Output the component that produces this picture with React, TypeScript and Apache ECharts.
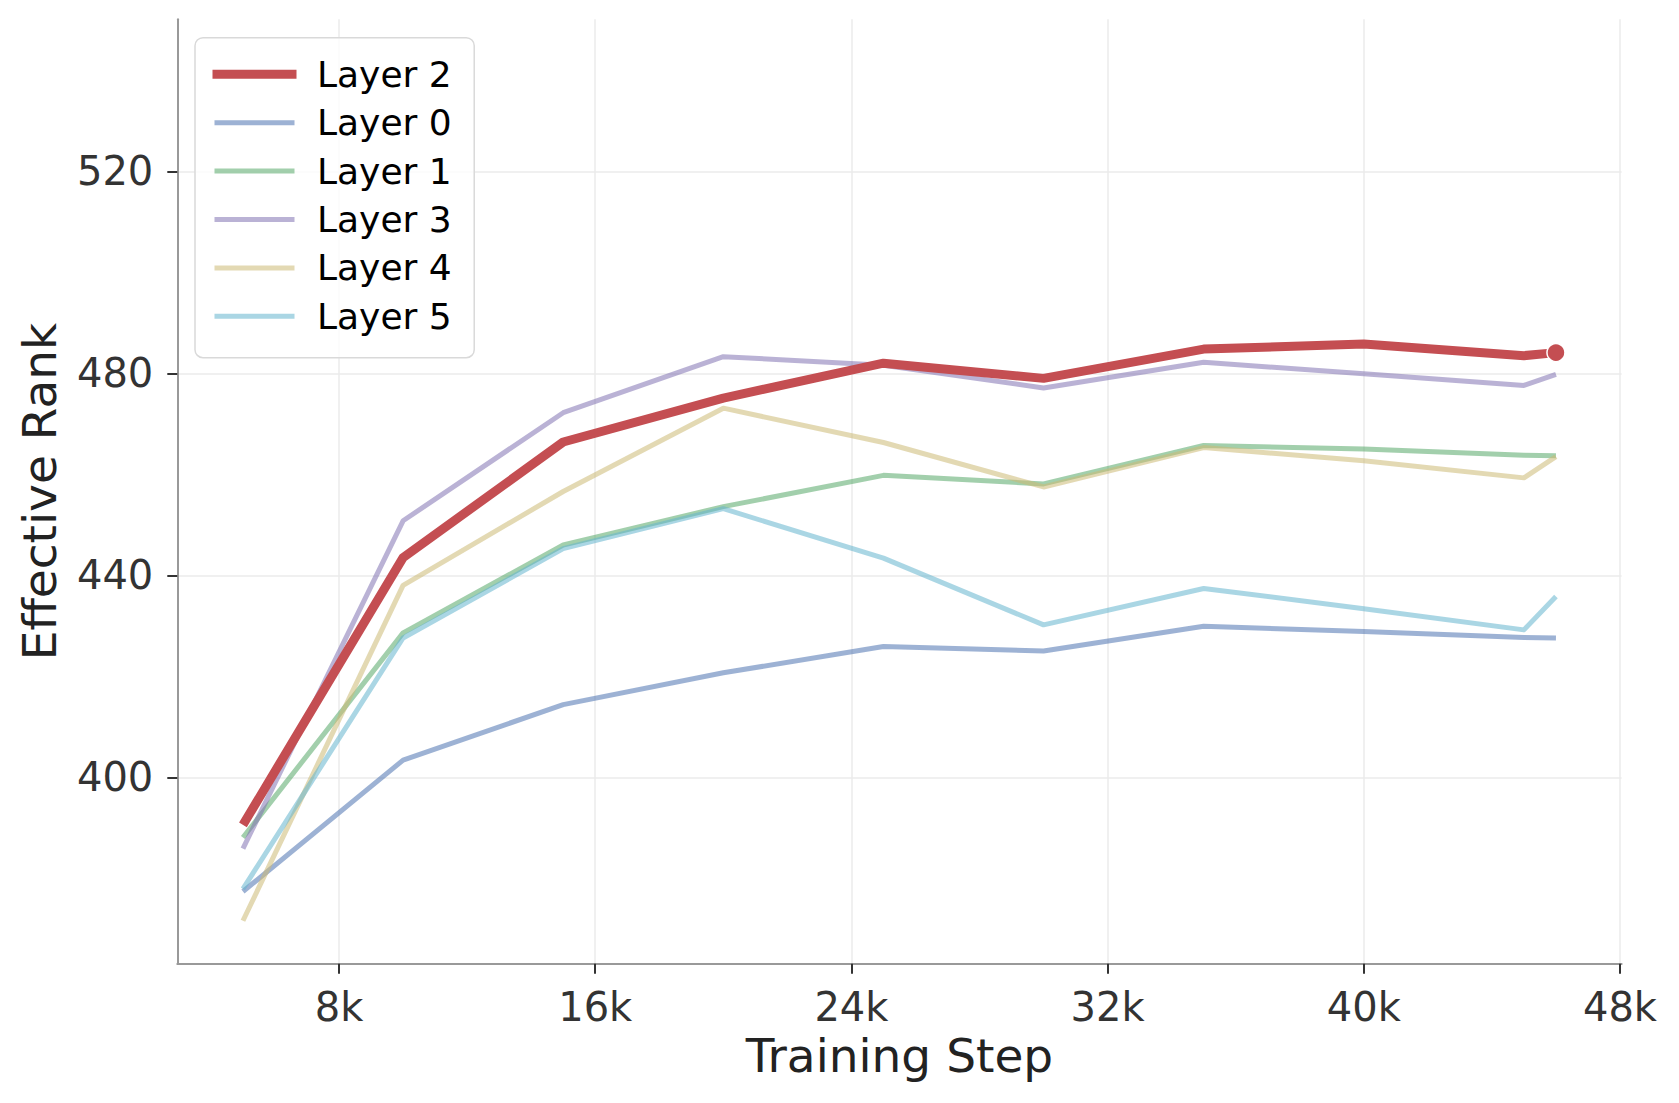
import React, { useEffect, useRef } from "react";
import * as echarts from "echarts";

const steps = [5000, 10000, 15000, 20000, 25000, 30000, 35000, 40000, 45000, 46000];
const layer2 = [390.6, 443.5, 466.4, 475.1, 482.0, 479.0, 484.8, 485.8, 483.5, 484.1];
const layer0 = [377.4, 403.4, 414.4, 420.7, 425.9, 425.0, 429.9, 428.9, 427.7, 427.6];
const layer1 = [388.1, 428.6, 446.0, 453.6, 459.8, 458.1, 465.7, 465.0, 463.8, 463.7];
const layer3 = [385.9, 450.8, 472.2, 483.3, 481.6, 477.1, 482.2, 479.9, 477.6, 479.8];
const layer4 = [371.6, 438.0, 456.6, 473.1, 466.3, 457.5, 465.3, 462.7, 459.3, 463.5];
const layer5 = [377.9, 427.6, 445.3, 453.2, 443.4, 430.2, 437.4, 433.4, 429.2, 435.8];

const xTicks = [8000, 16000, 24000, 32000, 40000, 48000];
const yTicks = [400, 440, 480, 520];

const FONT = "DejaVu Sans";

export default function App() {
  const ref = useRef<HTMLDivElement>(null);
  useEffect(() => {
    if (!ref.current) return;
    const chart = echarts.init(ref.current, undefined, { renderer: "svg" });
    const pair = (ys: number[]) => steps.map((s, i) => [s, ys[i]]);
    const faint = (name: string, color: string, ys: number[]) => ({
      name,
      type: "line",
      data: pair(ys),
      symbol: "none",
      lineStyle: { color, width: 5, opacity: 0.55, join: "round" },
      itemStyle: { color, opacity: 0.55 },
      z: 2,
    });
    const option: any = {
      animation: false,
      backgroundColor: "#ffffff",
      textStyle: { fontFamily: FONT },
      grid: {
        left: 177.3,
        top: 19.3,
        right: 57.4,
        bottom: 139.3,
        containLabel: false,
        outerBoundsMode: "none",
      },
      xAxis: {
        type: "value",
        min: 2950,
        max: 48050,
        name: "Training Step",
        nameLocation: "middle",
        nameGap: 67,
        nameTextStyle: { fontSize: 47, color: "#222222", fontFamily: FONT },
        axisLine: { show: true, lineStyle: { color: "#999999", width: 2 } },
        axisTick: {
          show: true,
          length: 10,
          inside: false,
          customValues: xTicks,
          lineStyle: { color: "#333333", width: 2 },
        },
        axisLabel: {
          customValues: xTicks,
          fontSize: 40,
          color: "#333333",
          margin: 23,
          fontFamily: FONT,
          formatter: (v: number) => `${Math.round(v / 1000)}k`,
        },
        splitLine: { show: true, lineStyle: { color: "#ebebeb", width: 1.5 } },
      },
      yAxis: {
        type: "value",
        min: 363.1,
        max: 550.1,
        name: "Effective Rank",
        nameLocation: "middle",
        nameGap: 114,
        nameTextStyle: { fontSize: 47, color: "#222222", fontFamily: FONT },
        axisLine: { show: true, lineStyle: { color: "#999999", width: 2 } },
        axisTick: {
          show: true,
          length: 10,
          inside: false,
          customValues: yTicks,
          lineStyle: { color: "#333333", width: 2 },
        },
        axisLabel: {
          customValues: yTicks,
          fontSize: 40,
          color: "#333333",
          margin: 24,
          fontFamily: FONT,
        },
        splitLine: { show: true, lineStyle: { color: "#ebebeb", width: 1.5 } },
      },
      legend: {
        orient: "vertical",
        left: 195,
        top: 37.7,
        padding: [16.6, 22.5, 21.4, 17.5],
        itemWidth: 75,
        itemHeight: 14,
        itemGap: 8.4,
        backgroundColor: "rgba(255,255,255,0.8)",
        borderColor: "#d9d9d9",
        borderWidth: 1.5,
        borderRadius: 8,
        itemStyle: { opacity: 0, borderWidth: 0 },
        textStyle: {
          fontSize: 36,
          lineHeight: 40,
          color: "#000000",
          fontFamily: FONT,
          padding: [0, 0, 0, 20],
        },
        data: [
          { name: "Layer 2", lineStyle: { width: 9, cap: "square" } },
          { name: "Layer 0", lineStyle: { width: 5, cap: "square" } },
          { name: "Layer 1", lineStyle: { width: 5, cap: "square" } },
          { name: "Layer 3", lineStyle: { width: 5, cap: "square" } },
          { name: "Layer 4", lineStyle: { width: 5, cap: "square" } },
          { name: "Layer 5", lineStyle: { width: 5, cap: "square" } },
        ],
      },
      series: [
        faint("Layer 0", "#4C72B0", layer0),
        faint("Layer 1", "#55A868", layer1),
        faint("Layer 3", "#8172B2", layer3),
        faint("Layer 4", "#CCB974", layer4),
        faint("Layer 5", "#64B5CD", layer5),
        {
          name: "Layer 2",
          type: "line",
          data: pair(layer2),
          symbol: "none",
          lineStyle: { color: "#C44E52", width: 9, join: "round" },
          itemStyle: { color: "#C44E52" },
          z: 5,
        },
        {
          name: "endpoint",
          type: "scatter",
          data: [[steps[steps.length - 1], layer2[layer2.length - 1]]],
          symbol: "circle",
          symbolSize: 18,
          itemStyle: { color: "#C44E52", borderColor: "#ffffff", borderWidth: 1.5, opacity: 1 },
          z: 6,
        },
      ],
    };
    chart.setOption(option);
    return () => chart.dispose();
  }, []);
  return (
    <div
      ref={ref}
      style={{ position: "fixed", left: 0, top: 0, width: 1679, height: 1103, background: "#fff" }}
    />
  );
}
